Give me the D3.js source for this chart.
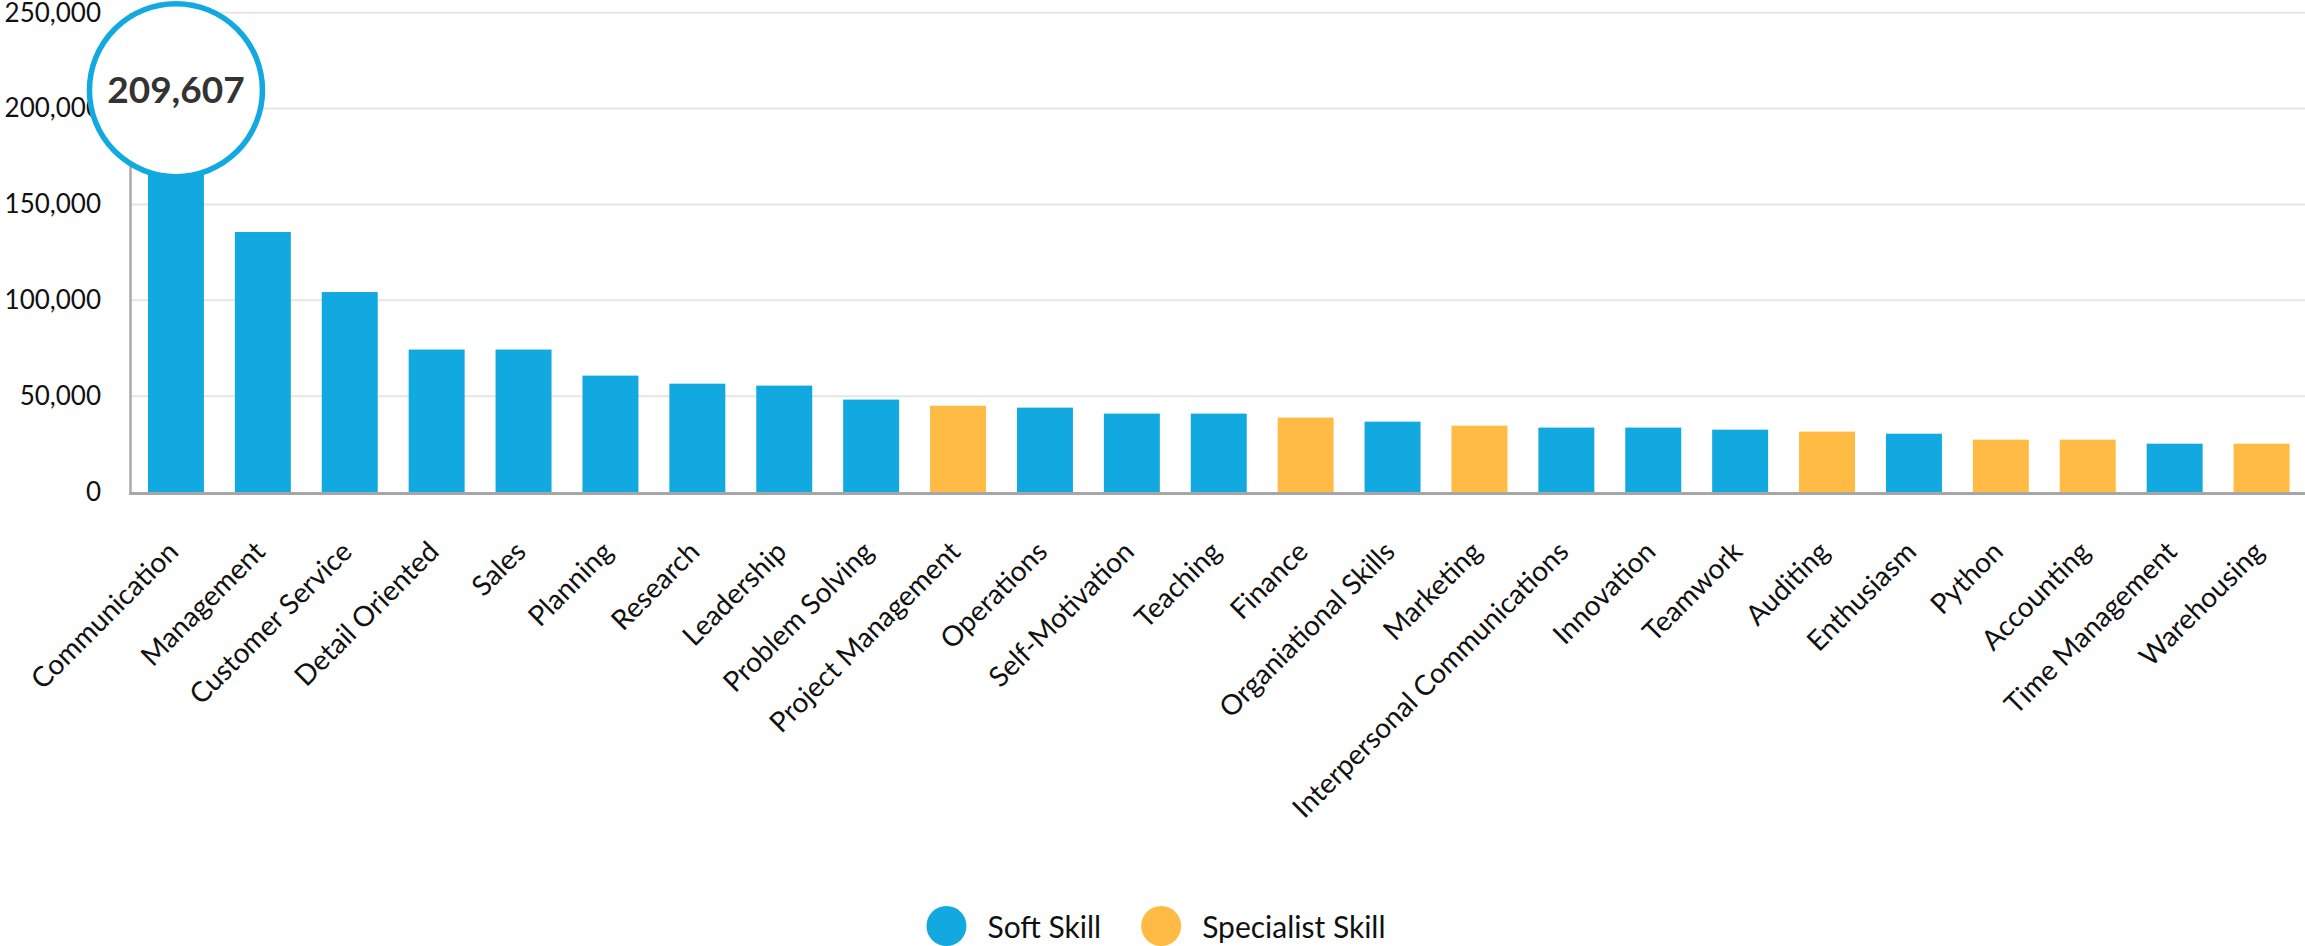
<!DOCTYPE html>
<html>
<head>
<meta charset="utf-8">
<script src="https://cdn.jsdelivr.net/npm/d3@7"></script>
<style>
  html, body { margin: 0; padding: 0; background: #fff; }
  svg { display: block; font-family: Lato, "Noto Sans", sans-serif; }
</style>
</head>
<body>
<svg id="chart" width="2305" height="946"></svg>
<script>
// Job-ad mentions per skill
const skills = [
  "Communication", "Management", "Customer Service", "Detail Oriented", "Sales",
  "Planning", "Research", "Leadership", "Problem Solving", "Project Management",
  "Operations", "Self-Motivation", "Teaching", "Finance", "Organiational Skills",
  "Marketing", "Interpersonal Communications", "Innovation", "Teamwork", "Auditing",
  "Enthusiasm", "Python", "Accounting", "Time Management", "Warehousing"
];
const mentions = [
  209607, 135600, 104300, 74300, 74300,
  60700, 56500, 55500, 48200, 45000,
  44000, 40900, 40900, 38800, 36700,
  34600, 33600, 33600, 32500, 31500,
  30400, 27300, 27300, 25200, 25200
];
const skillTypes = [
  "Soft Skill", "Soft Skill", "Soft Skill", "Soft Skill", "Soft Skill",
  "Soft Skill", "Soft Skill", "Soft Skill", "Soft Skill", "Specialist Skill",
  "Soft Skill", "Soft Skill", "Soft Skill", "Specialist Skill", "Soft Skill",
  "Specialist Skill", "Soft Skill", "Soft Skill", "Soft Skill", "Specialist Skill",
  "Soft Skill", "Specialist Skill", "Specialist Skill", "Soft Skill", "Specialist Skill"
];
const yTicks = [0, 50000, 100000, 150000, 200000, 250000];
const legendLabels = ["Soft Skill", "Specialist Skill"];
const legendColors = ["#12a9e0", "#ffbb44"];

const data = skills.map((s, i) => ({ skill: s, value: mentions[i], type: skillTypes[i] }));

const svg = d3.select("#chart");
const plot = { left: 131, right: 2305, top: 12.7, bottom: 492 };

const x = d3.scaleBand()
  .domain(skills)
  .range([132.5, 2305])
  .paddingInner(0.356)
  .paddingOuter(0.178);

const y = d3.scaleLinear()
  .domain([0, 250000])
  .range([plot.bottom, plot.top]);

const color = d3.scaleOrdinal().domain(legendLabels).range(legendColors);

// Horizontal gridlines
svg.append("g")
  .selectAll("line")
  .data(yTicks.filter(d => d > 0))
  .join("line")
  .attr("x1", plot.left)
  .attr("x2", plot.right)
  .attr("y1", d => y(d))
  .attr("y2", d => y(d))
  .attr("stroke", "#e6e6e6")
  .attr("stroke-width", 2);

// Bars
svg.append("g")
  .selectAll("rect")
  .data(data)
  .join("rect")
  .attr("x", d => x(d.skill))
  .attr("width", x.bandwidth())
  .attr("y", d => y(d.value))
  .attr("height", d => y(0) - y(d.value))
  .attr("fill", d => color(d.type));

// Y axis
const yAxis = svg.append("g")
  .attr("transform", `translate(${plot.left - 1},0)`)
  .call(d3.axisLeft(y).tickValues(yTicks).tickFormat(d3.format(",")).tickSize(0).tickPadding(29));
yAxis.select(".domain").attr("stroke", "#aaaaaa").attr("stroke-width", 2.5);
yAxis.selectAll("text")
  .attr("font-size", 26)
  .attr("fill", "#111")
  .attr("font-family", "Lato, sans-serif");

// X axis with slanted category labels
const xAxis = svg.append("g")
  .attr("transform", `translate(0,${plot.bottom + 1.5})`)
  .call(d3.axisBottom(x).tickSize(0).tickSizeOuter(0));
xAxis.select(".domain")
  .attr("d", `M${plot.left - 2},0H${plot.right}`)
  .attr("stroke", "#a6a6a6")
  .attr("stroke-width", 3);
xAxis.selectAll("text")
  .attr("x", 0)
  .attr("y", 0)
  .attr("dy", 0)
  .attr("transform", "translate(4,60) rotate(-45)")
  .attr("text-anchor", "end")
  .attr("font-size", 28)
  .attr("fill", "#111")
  .attr("font-family", "Lato, sans-serif");

// Highlight bubble on the leading skill
const leader = data[0];
const hx = x(leader.skill) + x.bandwidth() / 2;
const hy = y(leader.value);
svg.append("circle")
  .attr("cx", hx)
  .attr("cy", hy)
  .attr("r", 86.5)
  .attr("fill", "#fff")
  .attr("stroke", "#12a9e0")
  .attr("stroke-width", 5.5);
svg.append("text")
  .attr("x", hx)
  .attr("y", hy)
  .attr("dy", "0.36em")
  .attr("text-anchor", "middle")
  .attr("font-size", 37)
  .attr("font-weight", 700)
  .attr("fill", "#333")
  .text(d3.format(",")(leader.value));

// Legend
const legend = svg.append("g");
const items = legend.selectAll("g")
  .data(legendLabels)
  .join("g");
items.append("circle")
  .attr("r", 20)
  .attr("cx", 20)
  .attr("cy", 0)
  .attr("fill", d => color(d));
items.append("text")
  .attr("x", 61)
  .attr("y", 12)
  .attr("font-size", 30)
  .attr("fill", "#111")
  .text(d => d);
let offset = 0;
items.each(function () {
  const w = 61 + this.querySelector("text").getComputedTextLength();
  d3.select(this).attr("transform", `translate(${offset},0)`);
  offset += w + 40;
});
const legendWidth = offset - 40;
legend.attr("transform", `translate(${1156 - legendWidth / 2},926)`);
</script>
</body>
</html>
